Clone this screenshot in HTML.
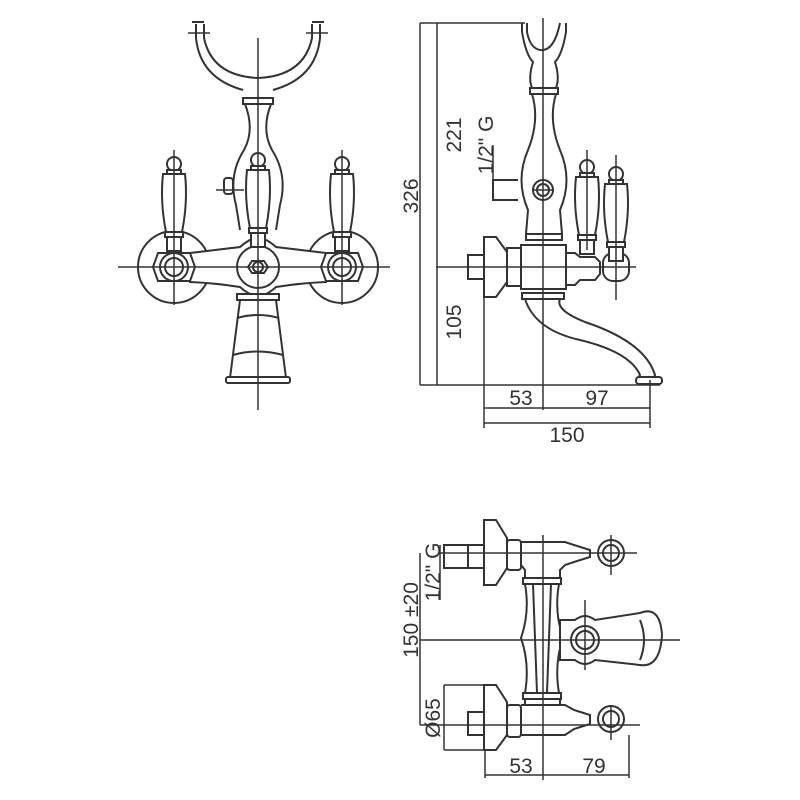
<!DOCTYPE html>
<html><head><meta charset="utf-8"><style>
html,body{margin:0;padding:0;background:#fff;}
svg{display:block}
text{font-family:"Liberation Sans",sans-serif;font-size:21px;fill:#333}
</style></head><body>
<svg width="800" height="800" viewBox="0 0 800 800" xmlns="http://www.w3.org/2000/svg">
<defs>
<g id="h" fill="#fff" stroke="#333" stroke-width="2">
<circle cx="0" cy="-78" r="7"/>
<rect x="-7" y="-72" width="14" height="4"/>
<path d="M-11,-68 L11,-68 Q14,-40 8,-10 L-8,-10 Q-14,-40 -11,-68Z"/>
<rect x="-9" y="-10" width="18" height="5"/>
<rect x="-7" y="-5" width="14" height="14"/>
</g>
<g id="nut" fill="#fff" stroke="#333" stroke-width="2">
<path d="M-16,-14 L16,-14 L21,0 L16,14 L-16,14 L-21,0Z"/>
<circle r="14"/><circle r="9"/>
</g>
</defs>
<g stroke="#333" stroke-width="2" fill="none">
<!-- ===== front view ===== -->
<path d="M196,24 L196,38 Q200,78 243,90 M320,24 L320,38 Q316,78 273,90"/>
<path d="M204,24 L204,38 Q212,76 258,78 Q304,76 312,38 L312,24"/>
<path d="M192,22 h12 M312,22 h12" />
<line x1="188" y1="33" x2="210" y2="33" stroke-width="1.5"/><line x1="306" y1="33" x2="328" y2="33" stroke-width="1.5"/>
<rect x="243" y="98" width="30" height="6" fill="#fff"/>
<path d="M245,104 Q255,130 244,150 Q228,175 236,205 L240,230 M271,104 Q261,130 272,150 Q288,175 280,205 L276,230"/>
<circle cx="174" cy="267" r="36" fill="#fff"/>
<circle cx="342" cy="267" r="36" fill="#fff"/>
<path d="M190,253 Q215,250 240,247 Q250,238 258,238 Q266,238 276,247 Q301,250 326,253 L326,282 Q301,283 276,287 Q266,296 258,296 Q250,296 240,287 Q215,283 190,282Z" fill="#fff"/>
<circle cx="258" cy="267" r="21" fill="#fff"/>
<path d="M252,261 h12 l4,6 l-4,6 h-12 l-4,-6z"/><circle cx="258" cy="267" r="5"/>
<use href="#nut" x="174" y="267"/><use href="#nut" x="342" y="267"/>
<use href="#h" x="174" y="242"/><use href="#h" x="342" y="242"/>
<use href="#h" x="258" y="238"/>
<rect x="224" y="178" width="9" height="16" rx="3" fill="#fff"/>
<rect x="237" y="294" width="42" height="6" fill="#fff"/>
<path d="M240,300 L230,378 L286,378 L276,300"/>
<rect x="226" y="377" width="64" height="6" rx="2" fill="#fff"/>
<path d="M237,318 Q258,312 279,318 M233,355 Q258,348 283,355"/>
<g stroke-width="1.5">
<line x1="258" y1="38" x2="258" y2="410"/>
<line x1="118" y1="267" x2="390" y2="267"/>
<line x1="174" y1="150" x2="174" y2="305"/><line x1="342" y1="150" x2="342" y2="305"/>
<line x1="216" y1="190" x2="244" y2="190"/>
</g>
<!-- ===== side view ===== -->
<path d="M527,23 L527,32 Q530,48 540,50 Q554,52 560,23 M522,23 L522,32 Q526,55 533,62 Q528,78 532,88 M566,23 L566,32 Q562,55 555,62 Q560,78 556,88"/>
<rect x="530" y="88" width="28" height="6" fill="#fff"/>
<path d="M532,94 Q540,120 528,150 Q515,180 528,210 L526,234 M556,94 Q548,120 560,150 Q573,180 560,210 L562,234"/>
<rect x="526" y="234" width="36" height="6" fill="#fff"/>
<circle cx="543" cy="190" r="10"/><circle cx="543" cy="190" r="6"/>
<path d="M518,180 L493,180 L493,200 L518,200"/>
<path d="M484,237 L496,237 L507,252 L507,282 L496,297 L484,297Z" fill="#fff"/>
<rect x="468" y="255" width="16" height="24" fill="#fff"/>
<rect x="507" y="248" width="14" height="38" fill="#fff"/>
<path d="M521,245 L566,245 L566,289 L521,289Z" fill="#fff"/>
<path d="M566,253 L575,253 L580,257 L595,257 L600,262 L600,274 L595,280 L580,280 L575,285 L566,285Z" fill="#fff"/>
<use href="#h" x="587" y="245"/>
<rect x="603" y="253" width="26" height="28" rx="10" fill="#fff"/>
<use href="#h" x="616" y="252"/>
<rect x="522" y="293" width="42" height="6" fill="#fff"/>
<path d="M525,299 Q535,330 580,340 Q630,352 640,375 L638,378 M560,299 Q555,310 585,322 Q645,342 655,375 L654,378"/>
<rect x="636" y="377" width="26" height="7" rx="3" fill="#fff"/>
<g stroke-width="1.5">
<line x1="543" y1="18" x2="543" y2="410"/>
<line x1="436" y1="267" x2="636" y2="267"/>
<line x1="532" y1="190" x2="554" y2="190"/>
<line x1="587" y1="150" x2="587" y2="250"/><line x1="616" y1="155" x2="616" y2="300"/>
<line x1="420" y1="23" x2="525" y2="23"/>
<line x1="420" y1="385" x2="660" y2="385"/>
<line x1="420" y1="23" x2="420" y2="385"/>
<line x1="437" y1="23" x2="437" y2="385"/>
<line x1="493" y1="145" x2="493" y2="200"/>
<line x1="484" y1="297" x2="484" y2="428"/>
<line x1="650" y1="380" x2="650" y2="428"/>
<line x1="484" y1="408" x2="650" y2="408"/>
<line x1="484" y1="423" x2="650" y2="423"/>
</g>
<!-- ===== top view ===== -->
<path d="M484,520 L496,520 L507,538 L507,568 L496,585 L484,585Z" fill="#fff"/>
<rect x="468" y="545" width="16" height="23" fill="#fff"/>
<rect x="444" y="545" width="24" height="23"/>
<rect x="507" y="540" width="14" height="30" rx="3" fill="#fff"/>
<path d="M521,542 L565,542 L574,545 L590,550 L590,557 L574,562 L565,565 L560,570 L560,580 M521,565 L525,570 L525,580"/>
<rect x="523" y="578" width="38" height="6" fill="#fff"/>
<rect x="523" y="693" width="38" height="6" fill="#fff"/>
<path d="M525,584 Q530,612 521,638 Q530,664 525,693 M559,584 Q554,612 563,638 Q554,664 559,693 M533,584 L537,693 M551,584 L547,693"/>
<circle cx="611" cy="553" r="13" fill="#fff"/><circle cx="611" cy="553" r="8"/>
<circle cx="611" cy="719" r="13" fill="#fff"/><circle cx="611" cy="719" r="8"/>
<path d="M484,685 L496,685 L507,702 L507,735 L496,750 L484,750Z" fill="#fff"/>
<rect x="468" y="712" width="16" height="23" fill="#fff"/>
<rect x="507" y="705" width="14" height="32" rx="3" fill="#fff"/>
<path d="M521,705 L565,705 L574,710 L590,715 L590,724 L574,729 L565,735 L521,735 M525,705 L525,699 M560,705 L560,699"/>
<path d="M560,620 L575,620 Q585,612 595,620 L640,613 Q660,605 662,635 Q660,668 640,665 L595,660 Q585,668 575,660 L560,660 Z" fill="#fff"/>
<circle cx="585" cy="640" r="14" fill="#fff"/><circle cx="585" cy="640" r="9"/>
<path d="M640,620 Q648,640 640,660"/>
<g stroke-width="1.5">
<line x1="543" y1="535" x2="543" y2="780"/>
<line x1="420" y1="640" x2="680" y2="640"/>
<line x1="440" y1="553" x2="637" y2="553"/><line x1="611" y1="535" x2="611" y2="575"/>
<line x1="420" y1="725" x2="640" y2="725"/><line x1="611" y1="705" x2="611" y2="740"/>
<line x1="585" y1="600" x2="585" y2="670"/>
<line x1="420" y1="553" x2="420" y2="725"/>
<line x1="440" y1="545" x2="440" y2="600"/>
<line x1="444" y1="685" x2="484" y2="685"/><line x1="444" y1="750" x2="484" y2="750"/>
<line x1="444" y1="685" x2="444" y2="750"/>
<line x1="485" y1="750" x2="485" y2="778"/><line x1="629" y1="735" x2="629" y2="778"/>
<line x1="485" y1="775" x2="629" y2="775"/>
</g>
</g>
<text transform="translate(418,196) rotate(-90)" text-anchor="middle">326</text>
<text transform="translate(461,135) rotate(-90)" text-anchor="middle">221</text>
<text transform="translate(461,322) rotate(-90)" text-anchor="middle">105</text>
<text transform="translate(493,145) rotate(-90)" text-anchor="middle">1/2" G</text>
<text x="521" y="405" text-anchor="middle">53</text>
<text x="597" y="405" text-anchor="middle">97</text>
<text x="567" y="442" text-anchor="middle">150</text>
<text transform="translate(418,620) rotate(-90)" text-anchor="middle">150 ±20</text>
<text transform="translate(440,572) rotate(-90)" text-anchor="middle">1/2" G</text>
<text transform="translate(440,718) rotate(-90)" text-anchor="middle">Ø65</text>
<text x="521" y="773" text-anchor="middle">53</text>
<text x="594" y="773" text-anchor="middle">79</text>
</svg>
</body></html>
